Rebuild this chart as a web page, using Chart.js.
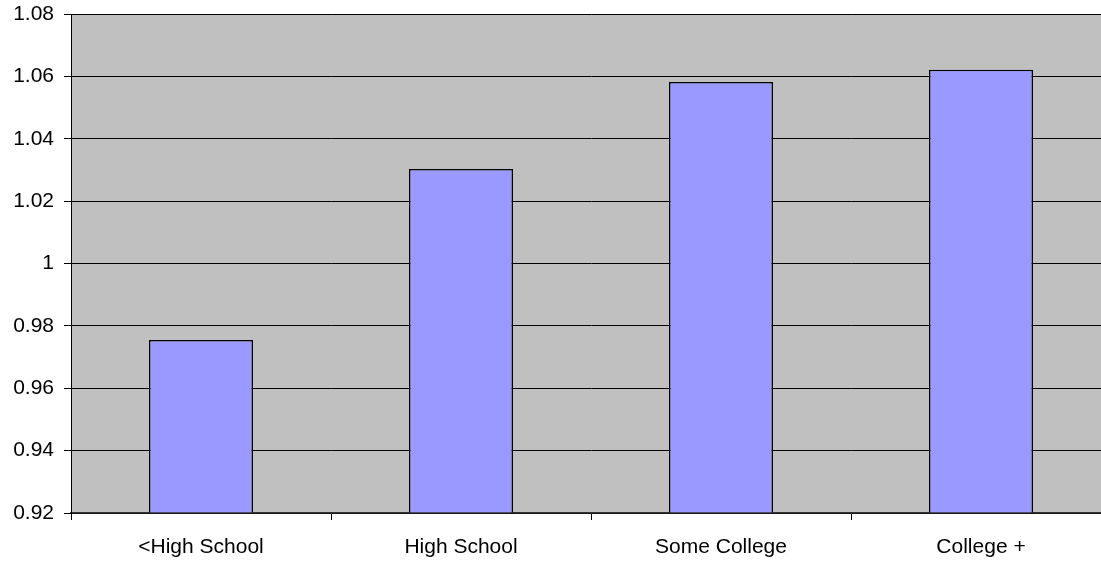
<!DOCTYPE html>
<html>
<head>
<meta charset="utf-8">
<script src="https://cdn.jsdelivr.net/npm/chart.js@4/dist/chart.umd.min.js"></script>
<style>
  html, body { margin: 0; padding: 0; background: #ffffff; overflow: hidden; }
  #wrap { width: 1101px; height: 565px; overflow: hidden; }
</style>
</head>
<body>
<div id="wrap"><canvas id="chart" width="1111" height="565"></canvas></div>
<script>
var categories = ['<High School', 'High School', 'Some College', 'College +'];
var ratios = [0.9755, 1.0303, 1.0582, 1.0621];
var yMin = 0.92, yMax = 1.08, yStep = 0.02;

// grey plot area; the original is cut off on the right, so the canvas runs past the window
var plotBackground = {
    id: 'plotBackground',
    beforeDraw: function (chart) {
        var a = chart.chartArea, ctx = chart.ctx;
        ctx.save();
        ctx.fillStyle = '#c0c0c0';
        ctx.fillRect(a.left, a.top, a.right - a.left, a.bottom - a.top);
        ctx.strokeStyle = '#8c8c8c';
        ctx.lineWidth = 1;
        ctx.beginPath();
        ctx.moveTo(a.left, Math.round(a.top) + 0.5);
        ctx.lineTo(a.right, Math.round(a.top) + 0.5);
        ctx.stroke();
        ctx.restore();
    }
};

var ctx = document.getElementById('chart');
new Chart(ctx, {
    type: 'bar',
    data: {
        labels: categories,
        datasets: [{
            data: ratios,
            backgroundColor: '#9999ff',
            borderColor: '#000000',
            borderWidth: 1.5,
            barPercentage: 0.4,
            categoryPercentage: 1.0,
            base: yMin
        }]
    },
    options: {
        responsive: false,
        animation: false,
        layout: { padding: { top: 14, right: 0, left: 0, bottom: 0 } },
        plugins: { legend: { display: false }, tooltip: { enabled: false } },
        scales: {
            x: {
                grid: { offset: true, drawOnChartArea: false, color: '#000000', tickLength: 7, tickWidth: 1 },
                border: { color: '#333333', width: 1.5 },
                ticks: { color: '#000000', font: { family: 'Liberation Sans', size: 21 }, padding: 15, maxRotation: 0 },
                afterFit: function (s) { s.height = 52; }
            },
            y: {
                min: yMin,
                max: yMax,
                grid: { color: '#000000', tickLength: 7, lineWidth: 1 },
                border: { color: '#000000', width: 1 },
                ticks: {
                    stepSize: yStep,
                    color: '#000000',
                    font: { family: 'Liberation Sans', size: 21 },
                    padding: 10,
                    callback: function (v) { return String(parseFloat(v.toFixed(2))); }
                },
                afterFit: function (s) { s.width = 71; s.paddingTop = 0; s.paddingBottom = 0; }
            }
        }
    },
    plugins: [plotBackground]
});
</script>
</body>
</html>
